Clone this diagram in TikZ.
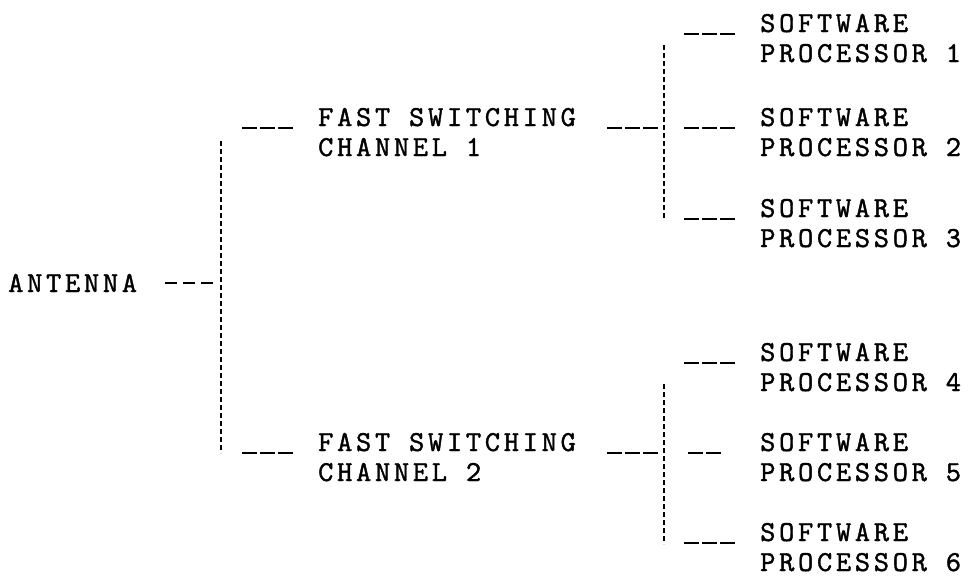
\documentclass[tikz,border=0pt]{standalone}
\usepackage{fontspec}
\newfontfamily\twfont{lmmono10-regular.otf}[FakeBold=1.3,LetterSpace=12.8]
\newcommand\twtext{\twfont\fontsize{29}{30}\selectfont\spaceskip=18.9pt plus 0pt minus 0pt\relax}
\begin{document}
\begin{tikzpicture}[x=1pt,y=-1pt,
  lbl/.style={anchor=base west, inner sep=0pt, align=left, font=\twtext},
  bus/.style={line width=1.6pt, dash pattern=on 5pt off 3pt},
  tie/.style={line width=1.8pt, dash pattern=on 15pt off 3pt},
  hyph/.style={line width=1.8pt, dash pattern=on 12pt off 6pt}]
\useasboundingbox (0,0) rectangle (971,576);

% labels (anchor = baseline of the last line)
\node[lbl] (ant) at (8,292) {ANTENNA};
\node[lbl] (fs1) at (318,156) {FAST SWITCHING\\CHANNEL 1};
\node[lbl] (fs2) at (318,481) {FAST SWITCHING\\CHANNEL 2};
\node[lbl] (sp1) at (760,62) {SOFTWARE\\PROCESSOR 1};
\node[lbl] (sp2) at (760,156) {SOFTWARE\\PROCESSOR 2};
\node[lbl] (sp3) at (760,247) {SOFTWARE\\PROCESSOR 3};
\node[lbl] (sp4) at (760,391) {SOFTWARE\\PROCESSOR 4};
\node[lbl] (sp5) at (760,481) {SOFTWARE\\PROCESSOR 5};
\node[lbl] (sp6) at (760,571) {SOFTWARE\\PROCESSOR 6};

% junction points
\coordinate (antA) at (165,283);
\coordinate (antB) at (213,283);
\coordinate (mainTop) at (221,141);
\coordinate (mainBot) at (221,453);
\coordinate (f1A) at (242,128);
\coordinate (f1B) at (293,128);
\coordinate (f2A) at (242,453);
\coordinate (f2B) at (293,453);
\coordinate (o1A) at (607,128);
\coordinate (o1B) at (658,128);
\coordinate (o2A) at (607,453);
\coordinate (o2B) at (658,453);
\coordinate (u1Top) at (664,45);
\coordinate (u1Bot) at (664,220);
\coordinate (u2Top) at (664,384);
\coordinate (u2Bot) at (664,544);
\coordinate (s1A) at (684,34);
\coordinate (s1B) at (735,34);
\coordinate (s2A) at (684,128);
\coordinate (s2B) at (735,128);
\coordinate (s3A) at (684,219);
\coordinate (s3B) at (735,219);
\coordinate (s4A) at (684,363);
\coordinate (s4B) at (735,363);
\coordinate (s5A) at (688,453);
\coordinate (s5B) at (721,453);
\coordinate (s6A) at (684,543);
\coordinate (s6B) at (735,543);

% connectors
\draw[hyph] (antA) -- (antB);
\draw[bus] (mainTop) -- (mainBot);
\draw[tie] (f1A) -- (f1B);
\draw[tie] (f2A) -- (f2B);
\draw[tie] (o1A) -- (o1B);
\draw[tie] (o2A) -- (o2B);
\draw[bus] (u1Top) -- (u1Bot);
\draw[bus] (u2Top) -- (u2Bot);
\draw[tie] (s1A) -- (s1B);
\draw[tie] (s2A) -- (s2B);
\draw[tie] (s3A) -- (s3B);
\draw[tie] (s4A) -- (s4B);
\draw[tie] (s5A) -- (s5B);
\draw[tie] (s6A) -- (s6B);
\end{tikzpicture}
\end{document}
